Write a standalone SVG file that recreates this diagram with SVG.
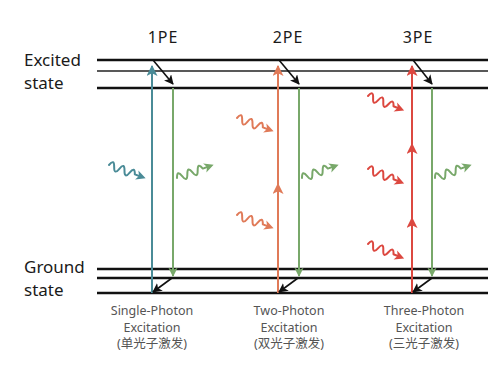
<svg xmlns="http://www.w3.org/2000/svg" width="504" height="369" viewBox="0 0 504 369">
<style>
.lvl{stroke:#111;stroke-width:2.4;fill:none}
.lvl2{stroke:#222;stroke-width:1.5;fill:none}
.state{font-family:"Noto Sans","Open Sans",sans-serif;font-size:17px;fill:#1a1a1a}
.hdr{font-family:"Noto Sans","Open Sans",sans-serif;font-size:16px;fill:#1a1a1a;text-anchor:middle;letter-spacing:1px}
.cap{font-family:"Noto Sans","Open Sans","Noto Sans CJK SC",sans-serif;font-size:12.5px;fill:#555;text-anchor:middle}
.v{stroke-width:2;fill:none}
.blk{stroke:#111;stroke-width:1.6;fill:none}
.wave{fill:none;stroke:currentColor;stroke-width:2;stroke-linecap:round;stroke-linejoin:round}
</style>
<defs>
<marker id="mBlue" viewBox="0 0 10 10" refX="9" refY="5" markerWidth="5.5" markerHeight="5.5" orient="auto" markerUnits="strokeWidth"><path d="M0,0 L10,5 L0,10 L2.5,5 Z" fill="#4a8b97"/></marker>
<marker id="mGreen" viewBox="0 0 10 10" refX="9" refY="5" markerWidth="4.6" markerHeight="4.6" orient="auto" markerUnits="strokeWidth"><path d="M0,0 L10,5 L0,10 L2.5,5 Z" fill="#78a86a"/></marker>
<marker id="mOrange" viewBox="0 0 10 10" refX="9" refY="5" markerWidth="5.5" markerHeight="5.5" orient="auto" markerUnits="strokeWidth"><path d="M0,0 L10,5 L0,10 L2.5,5 Z" fill="#e07a58"/></marker>
<marker id="mRed" viewBox="0 0 10 10" refX="9" refY="5" markerWidth="5.5" markerHeight="5.5" orient="auto" markerUnits="strokeWidth"><path d="M0,0 L10,5 L0,10 L2.5,5 Z" fill="#dc4840"/></marker>
<marker id="mBlack" viewBox="0 0 10 10" refX="9" refY="5" markerWidth="6" markerHeight="6" orient="auto" markerUnits="strokeWidth"><path d="M0,0 L10,5 L0,10 L2.5,5 Z" fill="#111"/></marker>
<g id="wave">
<path class="wave" d="M0,0 q2.8,-8 5.5,0 t5.5,0 t5.5,0 t5.5,0 t5.5,0 l6,0"/>
<path d="M39,0 L29.5,-4.8 L32,0 L29.5,4.8 Z" fill="currentColor"/>
</g>
</defs>

<g id="levels">
<line class="lvl" x1="97" y1="60" x2="488" y2="60"/>
<line class="lvl2" x1="97" y1="71" x2="488" y2="71"/>
<line class="lvl" x1="97" y1="88" x2="488" y2="88"/>
<line class="lvl" x1="97" y1="269" x2="488" y2="269"/>
<line class="lvl" x1="97" y1="278" x2="488" y2="278"/>
<line class="lvl" x1="97" y1="293" x2="488" y2="293"/>
</g>

<g id="labels">
<text class="state" x="24" y="66">Excited</text>
<text class="state" x="24" y="89">state</text>
<text class="state" x="24" y="273">Ground</text>
<text class="state" x="24" y="296">state</text>
</g>

<g id="pe1">
<text class="hdr" x="163" y="43">1PE</text>
<text class="cap" x="152" y="315">Single-Photon</text>
<text class="cap" x="152" y="332">Excitation</text>
<text class="cap" x="152" y="348">(单光子激发)</text>
</g>
<g id="pe2">
<text class="hdr" x="288" y="43">2PE</text>
<text class="cap" x="289" y="315">Two-Photon</text>
<text class="cap" x="289" y="332">Excitation</text>
<text class="cap" x="289" y="348">(双光子激发)</text>
</g>
<g id="pe3">
<text class="hdr" x="418" y="43">3PE</text>
<text class="cap" x="424" y="315">Three-Photon</text>
<text class="cap" x="424" y="332">Excitation</text>
<text class="cap" x="424" y="348">(三光子激发)</text>
</g>

<g id="connectors">
<!-- 1PE -->
<line class="v" stroke="#4a8b97" x1="152" y1="293" x2="152" y2="66" marker-end="url(#mBlue)"/>
<line class="v" stroke="#78a86a" stroke-width="2.4" x1="173" y1="88" x2="173" y2="276" marker-end="url(#mGreen)"/>
<line class="blk" x1="153" y1="60" x2="173" y2="84" marker-end="url(#mBlack)"/>
<line class="blk" x1="172" y1="278" x2="153" y2="292" marker-end="url(#mBlack)"/>
<!-- 2PE -->
<line class="v" stroke="#e07a58" x1="278" y1="293" x2="278" y2="184" marker-end="url(#mOrange)"/>
<line class="v" stroke="#e07a58" x1="278" y1="186" x2="278" y2="66" marker-end="url(#mOrange)"/>
<line class="v" stroke="#78a86a" stroke-width="2.4" x1="299" y1="88" x2="299" y2="276" marker-end="url(#mGreen)"/>
<line class="blk" x1="279" y1="60" x2="299" y2="84" marker-end="url(#mBlack)"/>
<line class="blk" x1="298" y1="278" x2="279" y2="292" marker-end="url(#mBlack)"/>
<!-- 3PE -->
<line class="v" stroke="#dc4840" x1="412" y1="293" x2="412" y2="218" marker-end="url(#mRed)"/>
<line class="v" stroke="#dc4840" x1="412" y1="220" x2="412" y2="144" marker-end="url(#mRed)"/>
<line class="v" stroke="#dc4840" x1="412" y1="146" x2="412" y2="66" marker-end="url(#mRed)"/>
<line class="v" stroke="#78a86a" stroke-width="2.4" x1="432" y1="88" x2="432" y2="276" marker-end="url(#mGreen)"/>
<line class="blk" x1="413" y1="60" x2="432" y2="84" marker-end="url(#mBlack)"/>
<line class="blk" x1="432" y1="278" x2="413" y2="292" marker-end="url(#mBlack)"/>
<!-- photons -->
<use href="#wave" color="#4a8b97" transform="translate(109,165) rotate(20)"/>
<use href="#wave" color="#78a86a" transform="translate(177,178) rotate(-20)"/>
<use href="#wave" color="#e07a58" transform="translate(237,118) rotate(20)"/>
<use href="#wave" color="#e07a58" transform="translate(237,215) rotate(20)"/>
<use href="#wave" color="#78a86a" transform="translate(302,178) rotate(-20)"/>
<use href="#wave" color="#dc4840" transform="translate(368,96) rotate(22)"/>
<use href="#wave" color="#dc4840" transform="translate(368,169) rotate(22)"/>
<use href="#wave" color="#dc4840" transform="translate(368,244) rotate(22)"/>
<use href="#wave" color="#78a86a" transform="translate(435,178) rotate(-20)"/>
</g>
</svg>
